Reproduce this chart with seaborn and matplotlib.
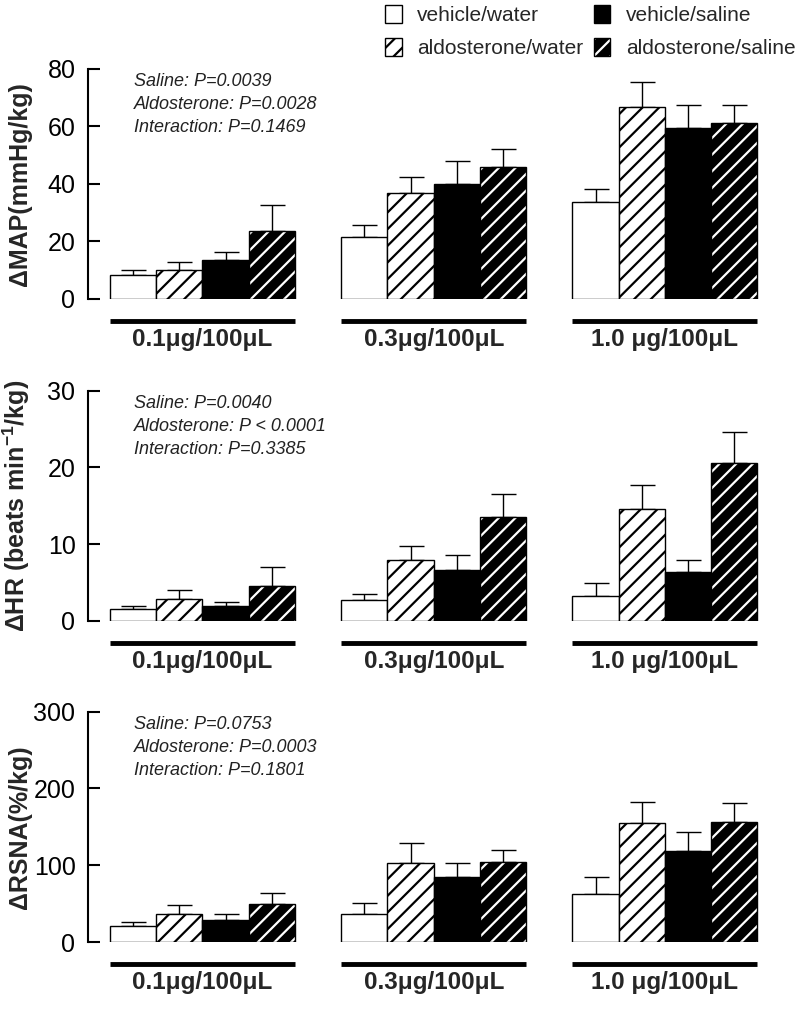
import numpy as np
import pandas as pd
import matplotlib
matplotlib.use('Agg')
import matplotlib.pyplot as plt
import seaborn as sns
from matplotlib.colors import to_rgba

doses = ['0.1\u03bcg/100\u03bcL', '0.3\u03bcg/100\u03bcL', '1.0 \u03bcg/100\u03bcL']
groups = ['vehicle/water', 'aldosterone/water', 'vehicle/saline', 'aldosterone/saline']

# mean values, one list per group (doses 0.1, 0.3, 1.0)
map_mean = {'vehicle/water': [8.5, 21.6, 33.5], 'aldosterone/water': [10.0, 36.8, 66.8],
            'vehicle/saline': [13.6, 40.0, 59.2], 'aldosterone/saline': [23.7, 45.8, 61.0]}
map_sem = {'vehicle/water': [1.5, 4.1, 4.8], 'aldosterone/water': [2.9, 5.6, 8.4],
           'vehicle/saline': [2.7, 7.9, 8.2], 'aldosterone/saline': [9.0, 6.3, 6.3]}

hr_mean = {'vehicle/water': [1.6, 2.7, 3.3], 'aldosterone/water': [2.9, 8.0, 14.6],
           'vehicle/saline': [1.9, 6.7, 6.4], 'aldosterone/saline': [4.6, 13.6, 20.6]}
hr_sem = {'vehicle/water': [0.4, 0.8, 1.7], 'aldosterone/water': [1.1, 1.7, 3.1],
          'vehicle/saline': [0.6, 1.9, 1.6], 'aldosterone/saline': [2.4, 2.9, 4.0]}

rsna_mean = {'vehicle/water': [21, 37, 63], 'aldosterone/water': [36, 103, 155],
             'vehicle/saline': [28, 84, 118], 'aldosterone/saline': [49, 104, 156]}
rsna_sem = {'vehicle/water': [5, 14, 21], 'aldosterone/water': [12, 26, 27],
            'vehicle/saline': [8, 19, 25], 'aldosterone/saline': [15, 16, 25]}

map_p = ['Saline: P=0.0039', 'Aldosterone: P=0.0028', 'Interaction: P=0.1469']
hr_p = ['Saline: P=0.0040', 'Aldosterone: P < 0.0001', 'Interaction: P=0.3385']
rsna_p = ['Saline: P=0.0753', 'Aldosterone: P=0.0003', 'Interaction: P=0.1801']

sns.set_style('white')
plt.rcParams['font.family'] = ['Liberation Sans', 'DejaVu Sans']
plt.rcParams['hatch.linewidth'] = 1.6
plt.rcParams['mathtext.fontset'] = 'custom'
plt.rcParams['mathtext.rm'] = 'Liberation Sans:bold'
plt.rcParams['mathtext.default'] = 'rm'

palette = {'vehicle/water': 'white', 'aldosterone/water': 'white',
           'vehicle/saline': 'black', 'aldosterone/saline': 'black'}

fig = plt.figure(figsize=(8, 10.11), dpi=100)

panels = [
    (map_mean, map_sem, map_p, 80, [0, 20, 40, 60, 80], '\u0394MAP(mmHg/kg)', 299),
    (hr_mean, hr_sem, hr_p, 30, [0, 10, 20, 30], '\u0394HR (beats min$^{-1}$/kg)', 621),
    (rsna_mean, rsna_sem, rsna_p, 300, [0, 100, 200, 300], '\u0394RSNA(%/kg)', 942),
]

handles = None
for mean, sem, ptext, ymax, yticks, ylabel, base_px in panels:
    ax = fig.add_axes([88 / 800, (1011 - base_px) / 1011, 692.6 / 800, 230.5 / 1011])
    df = pd.DataFrame([{'dose': d, 'group': g, 'value': mean[g][i]}
                       for g in groups for i, d in enumerate(doses)])
    sns.barplot(data=df, x='dose', y='value', hue='group', order=doses, hue_order=groups,
                palette=palette, edgecolor='black', linewidth=1, errorbar=None,
                legend=False, ax=ax, saturation=1)
    for g, cont in zip(groups, ax.containers):
        xs = [p.get_x() + p.get_width() / 2 for p in cont]
        ys = [p.get_height() for p in cont]
        ax.errorbar(xs, ys, yerr=[np.zeros(len(ys)), sem[g]], fmt='none', ecolor='black',
                    elinewidth=1, capsize=9, capthick=1, zorder=0.5)
        if g.startswith('aldosterone'):
            for p in cont:
                p.set_hatch('//')
                p.set_edgecolor('black')
                if g.endswith('saline'):
                    if hasattr(p, 'set_hatchcolor'):
                        p.set_hatchcolor('white')
                    else:
                        p._hatch_color = to_rgba('white')
    if handles is None:
        handles = list(ax.containers)

    ax.set_xlim(-0.495, 2.5)
    ax.set_ylim(0, ymax)
    ax.set_yticks(yticks)
    ax.set_xlabel('')
    ax.set_ylabel(ylabel, fontsize=18, fontweight='bold')
    ax.yaxis.set_label_coords(-0.081, 0.5)
    for s in ['top', 'right', 'bottom']:
        ax.spines[s].set_visible(False)
    ax.spines['left'].set_linewidth(1.5)
    ax.spines['left'].set_color('black')
    ax.tick_params(axis='y', direction='in', length=8.5, width=1.5, pad=9,
                   labelsize=18, colors='black', left=True)
    ax.tick_params(axis='x', length=0, pad=21, labelsize=17.5)
    for lbl in ax.get_xticklabels():
        lbl.set_fontweight('bold')
    ax.hlines([-0.095] * len(doses), [i - 0.4 for i in range(len(doses))],
              [i + 0.4 for i in range(len(doses))], colors='black', linewidth=3.5,
              transform=ax.get_xaxis_transform(), clip_on=False)
    for k, line in enumerate(ptext):
        ax.text(0.066, 0.945 - 0.1 * k, line, transform=ax.transAxes, fontsize=13,
                style='italic', color='#222222', va='center', ha='left')

fig.legend(handles, groups, loc='upper left', bbox_to_anchor=(385 / 800, 1006 / 1011),
           ncol=2, frameon=False, fontsize=15, handlelength=0.8, handleheight=0.95,
           handletextpad=0.75, columnspacing=0.5, labelspacing=0.6,
           borderpad=0, borderaxespad=0)

fig.savefig('out.png', dpi=100)
